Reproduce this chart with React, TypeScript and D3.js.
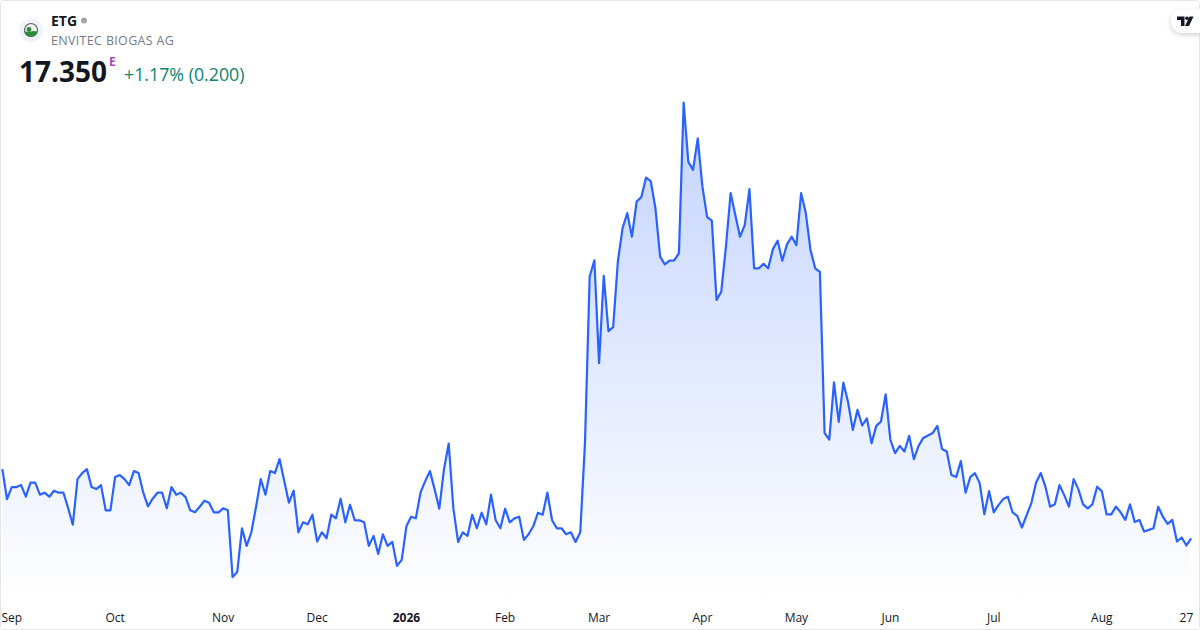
import React, { useEffect, useRef } from "react";
import * as d3 from "d3";

// Daily closes
const closes: number[] = [
    19.08, 18.33, 18.63, 18.63, 18.68, 18.39, 18.74, 18.74, 18.44, 18.49,
    18.39, 18.54, 18.49, 18.49, 18.11, 17.69, 18.83, 18.98, 19.08, 18.63,
    18.58, 18.68, 18.05, 18.05, 18.88, 18.93, 18.83, 18.68, 19.03, 18.98,
    18.49, 18.15, 18.34, 18.49, 18.49, 18.10, 18.63, 18.44, 18.49, 18.38,
    18.05, 18.00, 18.14, 18.29, 18.24, 18.00, 18.00, 18.10, 18.05, 16.38,
    16.51, 17.60, 17.16, 17.50, 18.14, 18.83, 18.44, 19.03, 18.98, 19.33,
    18.78, 18.24, 18.54, 17.50, 17.75, 17.70, 17.94, 17.27, 17.50, 17.35,
    17.94, 17.85, 18.34, 17.75, 18.19, 17.80, 17.80, 17.75, 17.16, 17.41,
    16.96, 17.45, 17.16, 17.26, 16.66, 16.81, 17.65, 17.89, 17.85, 18.49,
    18.78, 19.03, 18.58, 18.09, 19.08, 19.72, 18.09, 17.26, 17.50, 17.41,
    17.94, 17.60, 17.99, 17.70, 18.44, 17.80, 17.60, 18.09, 17.75, 17.85,
    17.89, 17.31, 17.45, 17.65, 17.99, 17.94, 18.49, 17.80, 17.60, 17.60,
    17.45, 17.50, 17.26, 17.50, 19.73, 23.89, 24.30, 21.73, 23.91, 22.53,
    22.63, 24.27, 25.10, 25.48, 24.89, 25.77, 25.88, 26.37, 26.28, 25.60,
    24.39, 24.20, 24.29, 24.30, 24.48, 28.24, 26.76, 26.56, 27.35, 26.14,
    25.38, 25.29, 23.31, 23.51, 24.64, 25.98, 25.43, 24.89, 25.18, 26.08,
    24.10, 24.10, 24.21, 24.10, 24.58, 24.79, 24.29, 24.70, 24.89, 24.68,
    25.98, 25.48, 24.56, 24.10, 24.01, 19.98, 19.82, 21.25, 20.26, 21.24,
    20.75, 20.06, 20.56, 20.17, 20.35, 19.73, 20.16, 20.27, 20.95, 19.81,
    19.48, 19.66, 19.52, 19.91, 19.33, 19.66, 19.86, 19.92, 19.98, 20.16,
    19.58, 19.52, 18.93, 18.88, 19.28, 18.49, 18.88, 18.98, 18.73, 17.95,
    18.53, 18.00, 18.18, 18.33, 18.39, 18.00, 17.91, 17.62, 17.93, 18.23,
    18.74, 18.98, 18.64, 18.14, 18.20, 18.68, 18.43, 18.14, 18.83, 18.58,
    18.20, 18.10, 18.20, 18.64, 18.53, 17.95, 17.95, 18.14, 18.00, 17.81,
    18.20, 17.76, 17.81, 17.52, 17.56, 17.60, 18.14, 17.89, 17.71, 17.81,
    17.27, 17.37, 17.17, 17.35,
];

const tickLabels = ["Sep", "Oct", "Nov", "Dec", "2026", "Feb", "Mar", "Apr", "May", "Jun", "Jul", "Aug", "27"];
const tickBars = [2, 24, 47, 67, 86, 107, 127, 149, 169, 189, 211, 234, 252];

const symbol = "ETG";
const company = "ENVITEC BIOGAS AG";
const lastPrice = "17.350";
const changeText = "+1.17% (0.200)";

const WIDTH = 1200;
const HEIGHT = 630;
const FONT = "'Open Sans', sans-serif";

export default function App() {
    const svgRef = useRef<SVGSVGElement>(null);

    useEffect(() => {
        if (!svgRef.current) return;
        const svg = d3.select(svgRef.current);
        svg.selectAll("*").remove();

        const x = d3.scaleLinear().domain([0, closes.length - 1]).range([2.33, 1191.1]);
        const y = d3.scaleLinear().domain([16, 29]).range([592.3, 72.3]);
        const baseline = 604;

        // --- Card ---
        svg.append("rect")
            .attr("x", 0.5).attr("y", 0.5)
            .attr("width", WIDTH - 1).attr("height", HEIGHT - 1)
            .attr("rx", 3)
            .attr("fill", "#ffffff")
            .attr("stroke", "#e6e6e6");

        const defs = svg.append("defs");
        const gradient = defs.append("linearGradient")
            .attr("id", "area-fill")
            .attr("gradientUnits", "userSpaceOnUse")
            .attr("x1", 0).attr("y1", y(d3.max(closes) as number))
            .attr("x2", 0).attr("y2", baseline);
        gradient.append("stop").attr("offset", "0%").attr("stop-color", "#2962ff").attr("stop-opacity", 0.28);
        gradient.append("stop").attr("offset", "100%").attr("stop-color", "#2962ff").attr("stop-opacity", 0);

        const shadow = defs.append("filter").attr("id", "pill-shadow")
            .attr("x", "-50%").attr("y", "-50%").attr("width", "200%").attr("height", "200%");
        shadow.append("feDropShadow")
            .attr("dx", 0).attr("dy", 2).attr("stdDeviation", 2.5)
            .attr("flood-color", "#000").attr("flood-opacity", 0.18);

        // --- Series ---
        const area = d3.area<number>()
            .x((_, i) => x(i))
            .y0(baseline)
            .y1((d) => y(d));
        const line = d3.line<number>()
            .x((_, i) => x(i))
            .y((d) => y(d));

        svg.append("path")
            .datum(closes)
            .attr("d", area)
            .attr("fill", "url(#area-fill)");
        svg.append("path")
            .datum(closes)
            .attr("d", line)
            .attr("fill", "none")
            .attr("stroke", "#2962ff")
            .attr("stroke-width", 2.2)
            .attr("stroke-linejoin", "round");

        // --- Time axis ---
        tickLabels.forEach((label, i) => {
            svg.append("text")
                .attr("x", x(tickBars[i]))
                .attr("y", 622)
                .attr("text-anchor", "middle")
                .attr("font-family", FONT)
                .attr("font-size", 12)
                .attr("font-weight", label === "2026" ? 700 : 400)
                .attr("fill", "#131722")
                .text(label);
        });

        // --- Header ---
        const logo = svg.append("g").attr("transform", "translate(31,30)");
        logo.append("circle").attr("r", 12).attr("fill", "#f0f3fa");
        logo.append("circle").attr("r", 6.5).attr("fill", "#eef0ee").attr("stroke", "#5c6664").attr("stroke-width", 1.2);
        logo.append("path").attr("d", "M-6.4 1.5 A6.5 6.5 0 0 0 6.4 1.5 L2 1 L-2 2 Z").attr("fill", "#2e8b3d");
        logo.append("circle").attr("cx", -2).attr("cy", -0.5).attr("r", 2.4).attr("fill", "#2e8b3d");

        svg.append("text").attr("x", 51).attr("y", 26)
            .attr("font-family", FONT).attr("font-size", 14).attr("font-weight", 700)
            .attr("fill", "#131722").text(symbol);
        svg.append("circle").attr("cx", 84).attr("cy", 20.5).attr("r", 3).attr("fill", "#a3a6af");
        svg.append("text").attr("x", 51).attr("y", 45)
            .attr("font-family", FONT).attr("font-size", 12.5).attr("letter-spacing", 0.33)
            .attr("fill", "#787b86").text(company);
        svg.append("text").attr("x", 19).attr("y", 82)
            .attr("font-family", FONT).attr("font-size", 28).attr("font-weight", 700)
            .attr("fill", "#131722").text(lastPrice);
        svg.append("text").attr("x", 109).attr("y", 66)
            .attr("font-family", FONT).attr("font-size", 12).attr("font-weight", 700)
            .attr("fill", "#ab47bc").text("E");
        svg.append("text").attr("x", 124).attr("y", 81)
            .attr("font-family", FONT).attr("font-size", 17.8)
            .attr("fill", "#0a8470").text(changeText);

        // --- Watermark pill ---
        svg.append("path")
            .attr("d", "M1200 9 H1183 A12 12 0 0 0 1183 33 H1200 Z")
            .attr("fill", "#ffffff")
            .attr("filter", "url(#pill-shadow)");
        svg.append("path")
            .attr("d", "M1177 16.5 H1184.5 V26 H1181 V20 H1177 Z M1189.5 16.5 H1193.5 L1189 26 H1185 Z")
            .attr("fill", "#131722");
        svg.append("circle").attr("cx", 1187).attr("cy", 18.3).attr("r", 1.8).attr("fill", "#131722");
    }, []);

    return (
        <svg
            ref={svgRef}
            width={WIDTH}
            height={HEIGHT}
            style={{ position: "absolute", left: 0, top: 0, display: "block" }}
        />
    );
}
